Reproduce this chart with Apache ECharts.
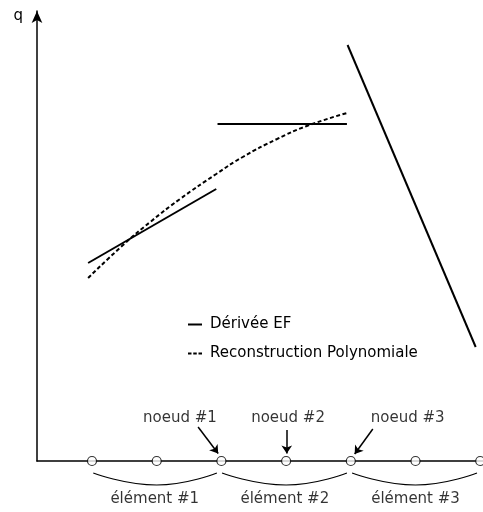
<!DOCTYPE html>
<html><head><meta charset="utf-8">
<script src="https://cdn.jsdelivr.net/npm/echarts@6/dist/echarts.min.js"></script>
<style>html,body{margin:0;padding:0;background:#fff}#c{width:483px;height:512px}</style>
</head><body><div id="c"></div>
<script>
// x in node-position units (circles at 1..7), y in q units
const feElement1 = [[0.94, 19.8], [2.92, 27.2]];
const feElement2 = [[2.94, 33.7], [4.94, 33.7]];
const feElement3 = [[4.95, 41.6], [6.93, 11.4]];
const polyRecon = [[0.94, 18.3], [1.48, 21.6], [1.90, 23.9], [2.36, 26.2], [2.92, 28.7],
                   [3.33, 30.4], [3.86, 32.2], [4.32, 33.5], [4.94, 34.8]];
const nodePositions = [1, 2, 3, 4, 5, 6, 7];
const bracket1 = [[1.02, -1.2], [2.0, -2.4], [2.93, -1.2]];
const bracket2 = [[3.01, -1.2], [4.0, -2.4], [4.94, -1.2]];
const bracket3 = [[5.02, -1.2], [6.0, -2.4], [6.95, -1.2]];
const nodeLabels = [["noeud #1", 2.36, 4.3], ["noeud #2", 4.03, 4.3], ["noeud #3", 5.88, 4.3]];
const elemLabels = [["élément #1", 1.97, -3.8], ["élément #2", 3.98, -3.8], ["élément #3", 6.0, -3.8]];
const nodeArrows = [[[2.64, 3.4], [2.95, 0.75]], [[4.01, 3.1], [4.01, 0.75]], [[5.34, 3.2], [5.06, 0.7]]];
const legendNames = ["Dérivée EF", "Reconstruction Polynomiale"];

const FONT = "DejaVu Sans";
const FS = 15;
const chart = echarts.init(document.getElementById('c'), null, {renderer: 'canvas'});
const solid = (d, name) => ({
  type: 'line', name: name, data: d, symbol: 'none', clip: false, silent: true,
  lineStyle: {color: '#000', width: 2}, itemStyle: {color: '#000'}, z: 3
});
const bracket = d => ({
  type: 'line', data: d, smooth: true, symbol: 'none', clip: false, silent: true,
  lineStyle: {color: '#000', width: 1.2}, z: 2
});
chart.setOption({
  animation: false,
  backgroundColor: '#fff',
  textStyle: {fontFamily: FONT},
  grid: {left: 37, right: 0, top: 11, bottom: 51, containLabel: false},
  legend: {
    orient: 'vertical', left: 183, top: 311, itemWidth: 14, itemHeight: 2, itemGap: 12,
    data: [
      {name: legendNames[0], icon: 'path://M0,0H14V2H0Z'},
      {name: legendNames[1], icon: 'path://M0,0H3.5V2H0Z M5.25,0H8.75V2H5.25Z M10.5,0H14V2H10.5Z'}
    ],
    itemStyle: {color: '#000', borderWidth: 0},
    textStyle: {fontFamily: FONT, fontSize: FS, color: '#000', padding: [0, 0, 0, 3], lineHeight: 17},
    selectedMode: false
  },
  xAxis: {
    type: 'value', min: 0.15, max: 7.043,
    axisLine: {show: true, onZero: false, lineStyle: {color: '#000', width: 1.5}},
    axisTick: {show: false}, axisLabel: {show: false}, splitLine: {show: false}
  },
  yAxis: {
    type: 'value', min: 0, max: 45, name: 'q', nameLocation: 'end', nameGap: -13,
    nameTextStyle: {fontFamily: FONT, fontSize: FS, color: '#000', align: 'right', padding: [0, 14, 0, 0]},
    axisLine: {show: true, onZero: false, symbol: ['none', 'arrow'], symbolSize: [8, 12], lineStyle: {color: '#000', width: 1.5}},
    axisTick: {show: false}, axisLabel: {show: false}, splitLine: {show: false}
  },
  series: [
    solid(feElement1, legendNames[0]),
    solid(feElement2, legendNames[0]),
    solid(feElement3, legendNames[0]),
    {
      type: 'line', name: legendNames[1], data: polyRecon, smooth: true, symbol: 'none', clip: false, silent: true,
      lineStyle: {color: '#000', width: 2, type: [4, 2.5]}, itemStyle: {color: '#000'}, z: 3
    },
    bracket(bracket1), bracket(bracket2), bracket(bracket3),
    {
      type: 'scatter', data: nodePositions.map(x => [x, 0]), symbol: 'circle', symbolSize: 9, clip: false, silent: true,
      itemStyle: {color: '#fff', borderColor: '#000', borderWidth: 1.2}, z: 5
    },
    {
      type: 'lines', coordinateSystem: 'cartesian2d', polyline: false, silent: true,
      data: nodeArrows.map(c => ({coords: c})),
      symbol: ['none', 'arrow'], symbolSize: 8,
      lineStyle: {color: '#000', width: 1.5, opacity: 1}, z: 6
    },
    {
      type: 'scatter', data: nodeLabels.concat(elemLabels).map(l => ({name: l[0], value: [l[1], l[2]]})),
      symbolSize: 0, clip: false, silent: true,
      label: {show: true, position: 'inside', formatter: p => p.name, color: '#000', fontFamily: FONT, fontSize: FS},
      z: 6
    }
  ]
});
</script></body></html>
